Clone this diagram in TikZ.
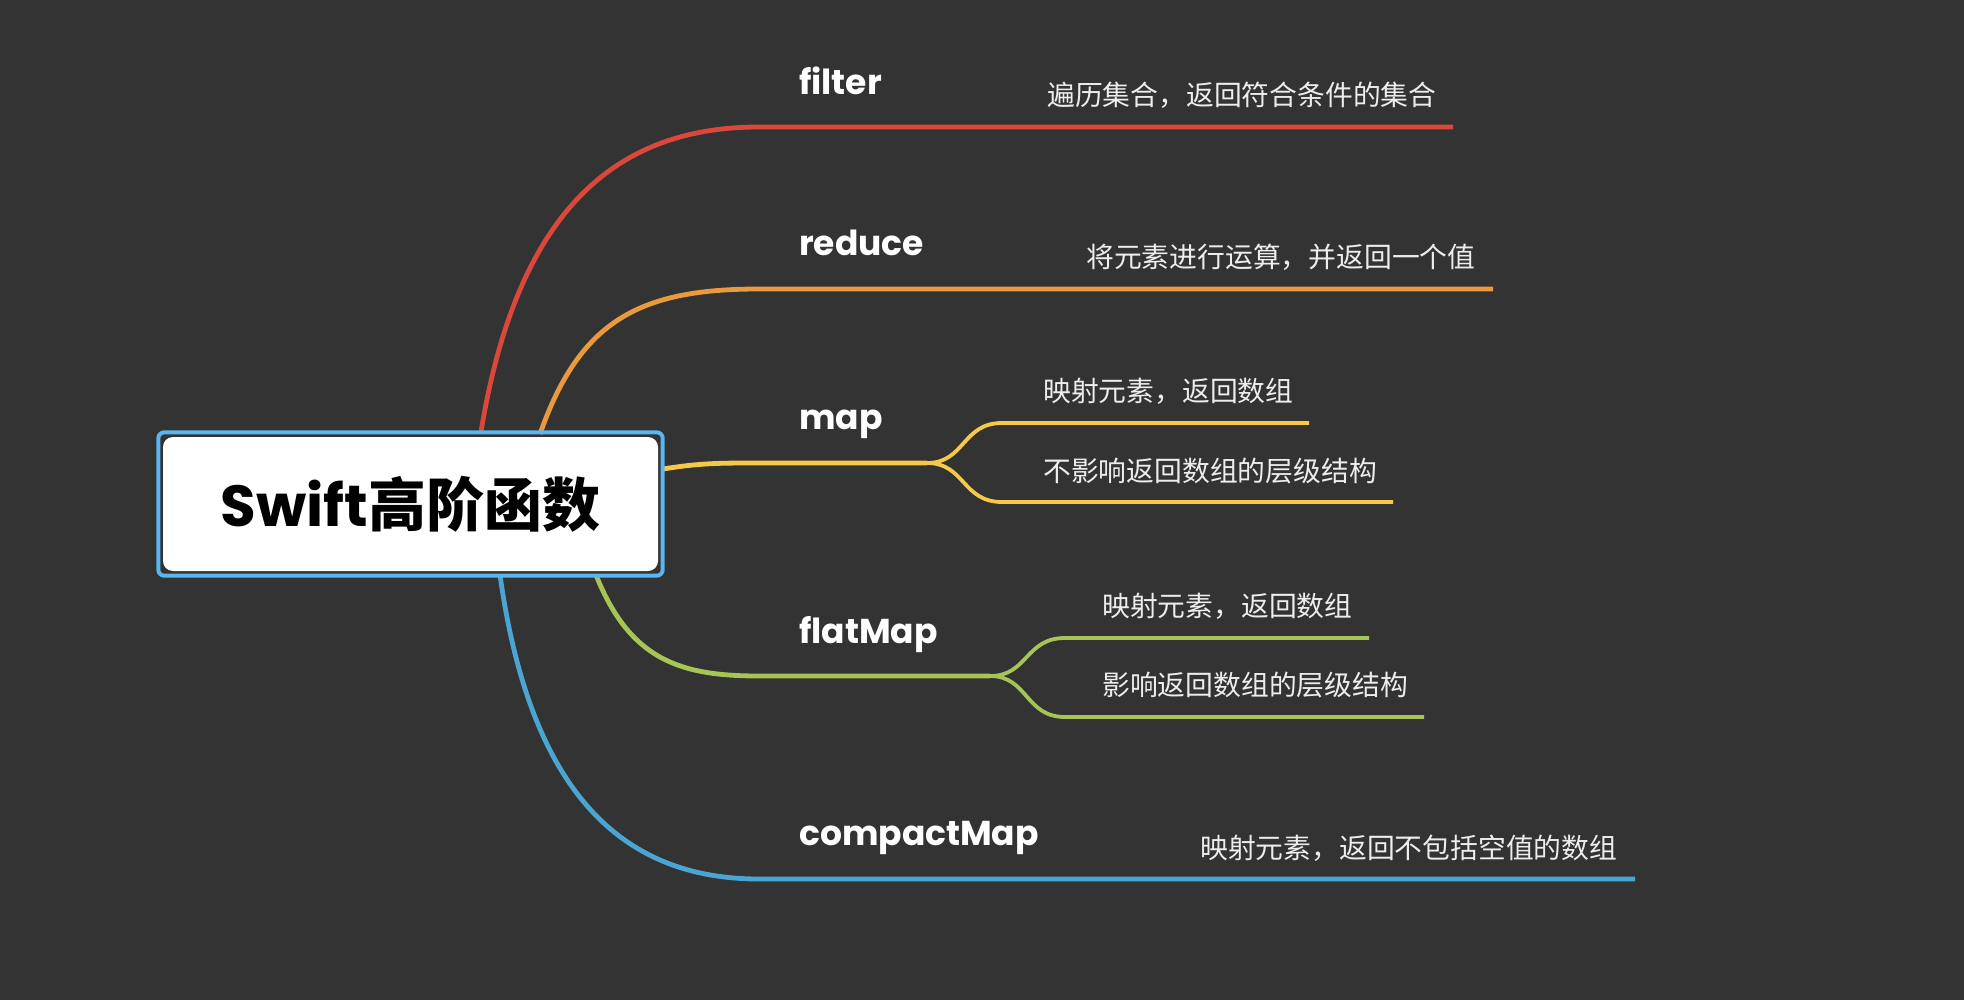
\documentclass[tikz,border=0pt]{standalone}
\usepackage{fontspec}
\setmainfont{Poppins}
\newfontfamily\cjk{Noto Sans CJK SC}
\definecolor{bg}{HTML}{333333}
\definecolor{cred}{HTML}{D9483B}
\definecolor{corange}{HTML}{E99A3F}
\definecolor{cyellow}{HTML}{F7C948}
\definecolor{cgreen}{HTML}{A7C556}
\definecolor{cblue}{HTML}{4AA5D2}
\definecolor{cborder}{HTML}{5BB5F0}
\definecolor{subtext}{HTML}{EDEDED}
\tikzset{
  branch/.style={line width=4.8pt},
  subbranch/.style={line width=3.8pt},
  lab/.style={anchor=base west, inner sep=0pt, text=white, font=\fontsize{34.5}{40}\selectfont\bfseries},
  sub/.style={anchor=west, inner sep=0pt, text=subtext, font=\fontsize{27.8}{32}\selectfont\cjk},
}
\begin{document}
\begin{tikzpicture}[x=1pt,y=-1pt]
\fill[bg] (0,0) rectangle (1964,1000);
\useasboundingbox (0,0) rectangle (1964,1000);
% coordinates
\coordinate (sR) at (481,432);
\coordinate (sO) at (540,434);
\coordinate (sY) at (663,469);
\coordinate (sG) at (596,575);
\coordinate (sB) at (500,575);
\coordinate (jR) at (759,127);
\coordinate (jO) at (759,289);
\coordinate (jY) at (759,463);
\coordinate (jG) at (759,676);
\coordinate (jB) at (759,879);
\coordinate (eR) at (1453,127);
\coordinate (eO) at (1493,289);
\coordinate (eB) at (1635,879);
\coordinate (kY) at (927,463);
\coordinate (kY1) at (1002,423);
\coordinate (kY2) at (1002,502);
\coordinate (eY1) at (1309,423);
\coordinate (eY2) at (1393,502);
\coordinate (kG) at (990,676);
\coordinate (kG1) at (1065,638);
\coordinate (kG2) at (1065,717);
\coordinate (eG1) at (1369,638);
\coordinate (eG2) at (1424,717);
% branches
\draw[branch,cred] (sR) .. controls (518,205) and (620,127) .. (jR) -- (eR);
\draw[branch,corange] (sO) .. controls (580,320) and (640,289) .. (jO) -- (eO);
\draw[branch,cyellow] (sY) .. controls (700,463) and (720,463) .. (jY) -- (kY);
\draw[subbranch,cyellow] (kY) .. controls (965,463) and (962,423) .. (kY1) -- (eY1);
\draw[subbranch,cyellow] (kY) .. controls (965,463) and (962,502) .. (kY2) -- (eY2);
\draw[branch,cgreen] (sG) .. controls (630,660) and (680,676) .. (jG) -- (kG);
\draw[subbranch,cgreen] (kG) .. controls (1028,676) and (1025,638) .. (kG1) -- (eG1);
\draw[subbranch,cgreen] (kG) .. controls (1028,676) and (1025,717) .. (kG2) -- (eG2);
\draw[branch,cblue] (sB) .. controls (530,790) and (620,879) .. (jB) -- (eB);
% root
\node[fill=white, rounded corners=10pt, minimum width=495pt, minimum height=134pt, inner sep=0pt,
      font=\fontsize{58}{62}\selectfont] (root) at (410.5,504)
  {\bfseries Swift{\cjk\bfseries 高阶函数}};
\draw[cborder, line width=4pt, rounded corners=6pt]
  ([xshift=-4.5pt,yshift=4.5pt]root.north west) rectangle ([xshift=4.5pt,yshift=-4.5pt]root.south east);
% labels
\node[lab] (lfilter) at (799,95) {filter};
\node[lab] (lreduce) at (799,256) {reduce};
\node[lab] (lmap) at (799,429) {map};
\node[lab] (lflat) at (799,643) {flatMap};
\node[lab] (lcomp) at (799,845) {compactMap};
% sub texts
\node[sub] (tfilter) at (1047,95) {遍历集合，返回符合条件的集合};
\node[sub] (treduce) at (1086,257) {将元素进行运算，并返回一个值};
\node[sub] (tmap1) at (1043,391) {映射元素，返回数组};
\node[sub] (tmap2) at (1043,471) {不影响返回数组的层级结构};
\node[sub] (tflat1) at (1102,606) {映射元素，返回数组};
\node[sub] (tflat2) at (1102,685) {影响返回数组的层级结构};
\node[sub] (tcomp) at (1200,848) {映射元素，返回不包括空值的数组};
\end{tikzpicture}
\end{document}
